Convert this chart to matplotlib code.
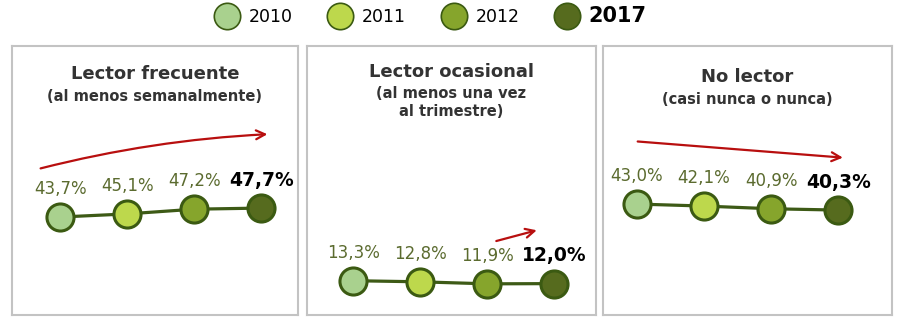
import matplotlib.pyplot as plt
from matplotlib.lines import Line2D

# Data
years = ['2010', '2011', '2012', '2017']
titles = ['Lector frecuente', 'Lector ocasional', 'No lector']
subtitles = ['(al menos semanalmente)', '(al menos una vez\nal trimestre)', '(casi nunca o nunca)']
frecuente = [43.7, 45.1, 47.2, 47.7]
ocasional = [13.3, 12.8, 11.9, 12.0]
no_lector = [43.0, 42.1, 40.9, 40.3]
series = [frecuente, ocasional, no_lector]

# Styles
year_colors = ['#a9d18e', '#bdd84c', '#86a52c', '#566b1e']
edge_color = '#3b5a12'
line_color = '#3d5a16'
label_color = '#5b6b2f'
arrow_color = '#b80f0f'
title_color = '#333333'

W, H = 900, 324
fig = plt.figure(figsize=(9, 3.24), dpi=100)

# panel boxes in pixels (left, right), shared top/bottom
panels = [(12, 298), (307, 596), (603, 892)]
top, bottom = 46, 315
ylims = [(0, 120), (-2, 118), (-6.5, 113.5)]
xlims = [(-0.72, 3.55), (-0.69, 3.62), (-0.5, 3.8)]
title_y = [0.895, 0.905, 0.885]
arrows = [
    dict(start=(0.10, 0.545), end=(0.893, 0.672), rad=-0.05),
    dict(start=(0.655, 0.275), end=(0.795, 0.315), rad=0.0),
    dict(start=(0.12, 0.645), end=(0.83, 0.585), rad=0.0),
]

for i, (l, r) in enumerate(panels):
    ax = fig.add_axes([l / W, 1 - bottom / H, (r - l) / W, (bottom - top) / H])
    ax.set_xlim(*xlims[i])
    ax.set_ylim(*ylims[i])
    ax.set_xticks([])
    ax.set_yticks([])
    for s in ax.spines.values():
        s.set_color('#c3c3c3')
        s.set_linewidth(1.5)

    vals = series[i]
    x = list(range(len(vals)))
    ax.plot(x, vals, color=line_color, lw=2.3, zorder=2)
    for j, v in enumerate(vals):
        ax.plot(j, v, 'o', ms=19.5, mfc=year_colors[j], mec=edge_color, mew=2.2, zorder=3)
        txt = f'{v:.1f}%'.replace('.', ',')
        if j == len(vals) - 1:
            ax.annotate(txt, (j, v), xytext=(0, 20), textcoords='offset points',
                        ha='center', va='center', fontsize=13.5, fontweight='bold', color='black')
        else:
            ax.annotate(txt, (j, v), xytext=(0, 20), textcoords='offset points',
                        ha='center', va='center', fontsize=12, color=label_color)

    ax.text(0.5, title_y[i], titles[i], transform=ax.transAxes, ha='center', va='center',
            fontsize=13, fontweight='bold', color=title_color)
    ax.text(0.5, title_y[i] - 0.055, subtitles[i], transform=ax.transAxes, ha='center', va='top',
            fontsize=10.5, fontweight='bold', color=title_color, linespacing=1.25)

    a = arrows[i]
    ax.annotate('', xy=a['end'], xycoords='axes fraction', xytext=a['start'],
                textcoords='axes fraction',
                arrowprops=dict(arrowstyle='->', color=arrow_color, lw=1.6,
                                connectionstyle=f"arc3,rad={a['rad']}",
                                mutation_scale=16, shrinkA=0, shrinkB=0))

# legend
handles = [Line2D([], [], ls='', marker='o', ms=19, mfc=c, mec=edge_color, mew=1.2)
           for c in year_colors]
leg = fig.legend(handles, years, loc='center', bbox_to_anchor=(0.478, 0.951), ncol=4,
                 frameon=False, fontsize=12.5, handlelength=1.5, handletextpad=0.5,
                 columnspacing=2.0, borderpad=0)
leg.get_texts()[3].set_fontweight('bold')
leg.get_texts()[3].set_fontsize(15)

fig.savefig('out.png', dpi=100)
